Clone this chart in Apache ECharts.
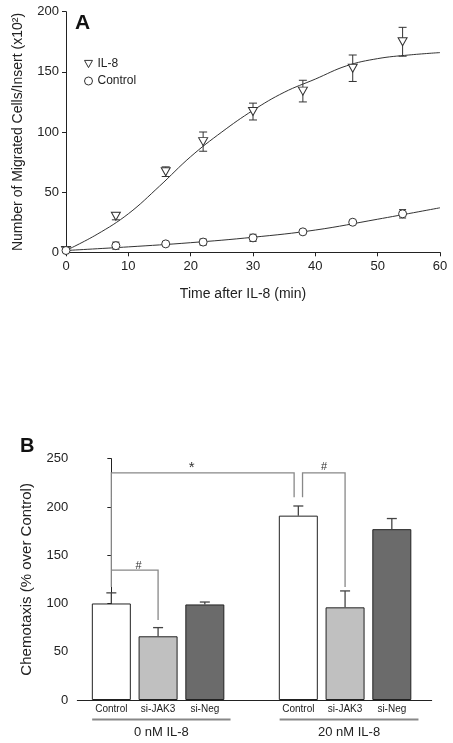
<!DOCTYPE html>
<html>
<head>
<meta charset="utf-8">
<script src="https://cdn.jsdelivr.net/npm/echarts@6/dist/echarts.min.js"></script>
<style>html,body{margin:0;padding:0;background:#fff}#c{width:453px;height:743px}</style>
</head>
<body>
<div id="c"></div>
<script>
// ---------- Panel A data ----------
const timeMin = [0, 8, 16, 22, 30, 38, 46, 54];
const il8Mean = [1.5, 30, 67, 92, 117, 134, 153, 175];
const il8Err  = [0, 3, 4, 8, 7, 9, 11, 12];
const ctrlMean = [1.5, 5.5, 7, 8.5, 12, 17, 25, 32];
const ctrlErr  = [0, 3, 1, 2.5, 3, 1, 1, 3.5];
const fitTimeIL8 = [0, 5, 10, 15, 20, 25, 30, 35, 40, 45, 50, 55, 60];
const fitIL8     = [1.5, 15, 32, 55, 79.5, 100, 118, 133, 144, 155, 161, 164, 166];
const fitTimeCtrl = [0, 10, 20, 30, 40, 50, 60];
const fitCtrl     = [1.5, 4.5, 8, 12.5, 18.5, 27.5, 37];
const xTicksA = [0, 10, 20, 30, 40, 50, 60];
const yTicksA = [0, 50, 100, 150, 200];

// ---------- Panel B data ----------
const barCats = ['Control', 'si-JAK3', 'si-Neg', 'Control', 'si-JAK3', 'si-Neg'];
const barPos  = [0, 1, 2, 4, 5, 6];
const barVals = [100, 66, 99, 191, 96, 177];
const barErr  = [11, 9, 2.5, 10, 17, 11];
const groupNames = ['0 nM IL-8', '20 nM IL-8'];
const groupSpan  = [[-0.41, 2.55], [3.6, 6.57]];
const yTicksB = [0, 50, 100, 150, 200, 250];
// significance brackets: polyline in data units (bar position, value)
const brackets = [
  [[0, 117], [0, 235.4], [3.91, 235.4], [3.91, 210]],
  [[4.09, 210], [4.09, 235.4], [5, 235.4], [5, 117]],
  [[0, 134.5], [1, 134.5], [1, 83]]
];
const sigMarks = [['*', 1.72, 241], ['#', 4.55, 241], ['#', 0.58, 139]];

// styles
const barColors = ['#ffffff', '#c0c0c0', '#6b6b6b', '#ffffff', '#c0c0c0', '#6b6b6b'];
const FONT = 'Liberation Sans, Arial, sans-serif';
const TXT = '#222';

const chart = echarts.init(document.getElementById('c'));

function errA(capW) {
  return function (params, api) {
    const x = api.value(0), m = api.value(1), e = api.value(2);
    const top = api.coord([x, m + e]);
    const bot = api.coord([x, m - e]);
    const st = { stroke: '#333', lineWidth: 1 };
    return { type: 'group', children: [
      { type: 'line', shape: { x1: top[0], y1: top[1], x2: bot[0], y2: bot[1] }, style: st },
      { type: 'line', shape: { x1: top[0] - capW / 2, y1: top[1], x2: top[0] + capW / 2, y2: top[1] }, style: st },
      { type: 'line', shape: { x1: bot[0] - capW / 2, y1: bot[1], x2: bot[0] + capW / 2, y2: bot[1] }, style: st }
    ]};
  };
}

const axisCommon = {
  axisLine: { show: true, lineStyle: { color: '#222', width: 1 } },
  axisTick: { show: true, length: 4, lineStyle: { color: '#222' } },
  splitLine: { show: false }
};

chart.setOption({
  animation: false,
  backgroundColor: '#fff',
  textStyle: { fontFamily: FONT },
  title: [
    { text: 'A', left: 75, top: 13, padding: 0, textStyle: { fontSize: 21, fontWeight: 'bold', color: '#111', fontFamily: FONT } },
    { text: 'B', left: 20, top: 436, padding: 0, textStyle: { fontSize: 20, fontWeight: 'bold', color: '#111', fontFamily: FONT } }
  ],
  legend: {
    orient: 'vertical', left: 79, top: 53, itemWidth: 8, itemHeight: 8, itemGap: 5,
    itemStyle: { color: '#fff', borderColor: '#333', borderWidth: 1 },
    textStyle: { fontSize: 12, color: TXT, fontFamily: FONT },
    data: [{ name: 'IL-8', icon: 'path://M0,0 L10,0 L5,9 Z' }, { name: 'Control', icon: 'circle' }]
  },
  grid: [
    { left: 66, right: 13, top: 11.7, height: 240.6 },
    { left: 77.3, right: 21.3, top: 458.7, height: 241.3 }
  ],
  xAxis: [
    Object.assign({}, axisCommon, {
      gridIndex: 0, type: 'value', min: xTicksA[0], max: xTicksA[xTicksA.length - 1], interval: 10,
      name: 'Time after IL-8 (min)', nameLocation: 'middle', nameGap: 35,
      nameTextStyle: { fontSize: 14, color: TXT, fontFamily: FONT, padding: [0, 20, 0, 0] },
      axisLabel: { fontSize: 13, color: TXT, margin: 8, fontFamily: FONT }
    }),
    Object.assign({}, axisCommon, {
      gridIndex: 1, type: 'value', min: -0.728, max: 6.853,
      axisTick: { show: false }, axisLabel: { show: false }
    })
  ],
  yAxis: [
    Object.assign({}, axisCommon, {
      gridIndex: 0, type: 'value', min: yTicksA[0], max: yTicksA[yTicksA.length - 1], interval: 50,
      name: 'Number of Migrated Cells/Insert (x10²)', nameLocation: 'middle', nameGap: 41,
      nameTextStyle: { fontSize: 14, color: TXT, fontFamily: FONT },
      axisLabel: { fontSize: 13, color: TXT, margin: 7, fontFamily: FONT }
    }),
    Object.assign({}, axisCommon, {
      gridIndex: 1, type: 'value', min: yTicksB[0], max: yTicksB[yTicksB.length - 1], interval: 50,
      name: 'Chemotaxis (% over Control)', nameLocation: 'middle', nameGap: 43,
      nameTextStyle: { fontSize: 15, color: TXT, fontFamily: FONT },
      axisLabel: { fontSize: 13, color: TXT, margin: 9, fontFamily: FONT }
    })
  ],
  series: [
    // Panel A fitted curves
    { type: 'line', xAxisIndex: 0, yAxisIndex: 0, smooth: 0.4, showSymbol: false, silent: true,
      lineStyle: { color: '#333', width: 1 }, z: 2,
      data: fitTimeIL8.map((t, i) => [t, fitIL8[i]]) },
    { type: 'line', xAxisIndex: 0, yAxisIndex: 0, smooth: 0.4, showSymbol: false, silent: true,
      lineStyle: { color: '#333', width: 1 }, z: 2,
      data: fitTimeCtrl.map((t, i) => [t, fitCtrl[i]]) },
    // Panel A error bars
    { type: 'custom', xAxisIndex: 0, yAxisIndex: 0, z: 3, silent: true, renderItem: errA(8),
      data: timeMin.map((t, i) => [t, il8Mean[i], il8Err[i]]) },
    { type: 'custom', xAxisIndex: 0, yAxisIndex: 0, z: 3, silent: true, renderItem: errA(7),
      data: timeMin.map((t, i) => [t, ctrlMean[i], ctrlErr[i]]) },
    // Panel A markers
    { name: 'IL-8', type: 'scatter', xAxisIndex: 0, yAxisIndex: 0, symbol: 'triangle', symbolRotate: 180, symbolSize: [9, 8],
      itemStyle: { color: '#fff', borderColor: '#333', borderWidth: 1, opacity: 1 }, z: 4,
      data: timeMin.map((t, i) => [t, il8Mean[i]]) },
    { name: 'Control', type: 'scatter', xAxisIndex: 0, yAxisIndex: 0, symbol: 'circle', symbolSize: 8,
      itemStyle: { color: '#fff', borderColor: '#333', borderWidth: 1, opacity: 1 }, z: 4,
      data: timeMin.map((t, i) => [t, ctrlMean[i]]) },

    // Panel B bars
    { type: 'bar', xAxisIndex: 1, yAxisIndex: 1, barWidth: 39, z: 2,
      label: { show: true, position: 'bottom', distance: 4, fontSize: 10, color: TXT, fontFamily: FONT,
        formatter: p => barCats[p.dataIndex] },
      data: barPos.map((x, i) => ({ value: [x, barVals[i]],
        itemStyle: { color: barColors[i], borderColor: '#222', borderWidth: 1 } })) },
    // Panel B error bars (upper)
    { type: 'custom', xAxisIndex: 1, yAxisIndex: 1, z: 3, silent: true,
      renderItem: function (params, api) {
        const x = api.value(0), m = api.value(1), e = api.value(2);
        const a = api.coord([x, m]), b = api.coord([x, m + e]);
        const st = { stroke: '#444', lineWidth: 1.3 };
        return { type: 'group', children: [
          { type: 'line', shape: { x1: a[0], y1: a[1], x2: b[0], y2: b[1] }, style: st },
          { type: 'line', shape: { x1: b[0] - 5, y1: b[1], x2: b[0] + 5, y2: b[1] }, style: st }
        ]};
      },
      data: barPos.map((x, i) => [x, barVals[i], barErr[i]]) },
    // Panel B significance brackets
    { type: 'custom', xAxisIndex: 1, yAxisIndex: 1, z: 3, silent: true, clip: false,
      renderItem: function (params, api) {
        const pts = brackets[params.dataIndex].map(p => api.coord(p));
        return { type: 'polyline', shape: { points: pts }, style: { stroke: '#888', lineWidth: 1.3, fill: null } };
      },
      data: brackets.map((b, i) => [b[0][0], b[0][1], i]) },
    { type: 'custom', xAxisIndex: 1, yAxisIndex: 1, z: 3, silent: true, clip: false,
      renderItem: function (params, api) {
        const s = sigMarks[params.dataIndex];
        const p = api.coord([s[1], s[2]]);
        return { type: 'text', x: p[0], y: p[1],
          style: { text: s[0], fontSize: s[0] === '*' ? 15 : 11, fontFamily: FONT, fill: '#333', align: 'center', verticalAlign: 'middle' } };
      },
      data: sigMarks.map(s => [s[1], s[2]]) },
    // Panel B group lines and labels
    { type: 'custom', xAxisIndex: 1, yAxisIndex: 1, z: 3, silent: true, clip: false,
      renderItem: function (params, api) {
        const g = groupSpan[params.dataIndex];
        const a = api.coord([g[0], 0]), b = api.coord([g[1], 0]);
        const y = a[1] + 19.5;
        return { type: 'group', children: [
          { type: 'line', shape: { x1: a[0], y1: y, x2: b[0], y2: y }, style: { stroke: '#888', lineWidth: 2 } },
          { type: 'text', x: (a[0] + b[0]) / 2, y: y + 12.5,
            style: { text: groupNames[params.dataIndex], fontSize: 13, fontFamily: FONT, fill: TXT, align: 'center', verticalAlign: 'middle' } }
        ]};
      },
      data: groupSpan.map((g, i) => [g[0], 0, i]) }
  ]
});
</script>
</body>
</html>
